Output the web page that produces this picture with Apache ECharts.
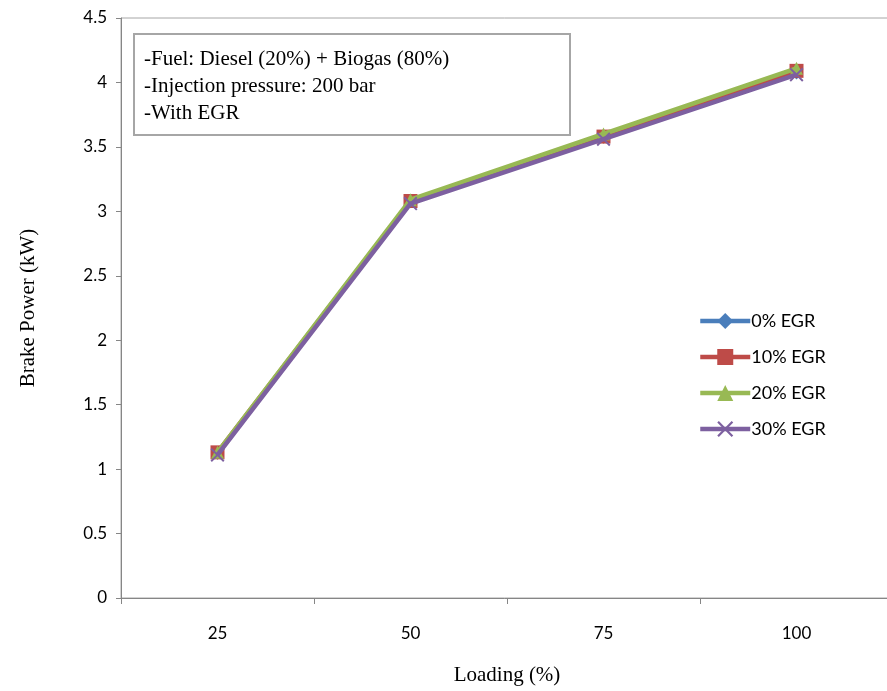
<!DOCTYPE html>
<html>
<head>
<meta charset="utf-8">
<script src="https://cdn.jsdelivr.net/npm/echarts@6/dist/echarts.min.js"></script>
<style>
  html, body { margin: 0; padding: 0; background: #fff; }
  #chart { width: 887px; height: 691px; }
</style>
</head>
<body>
<div id="chart"></div>
<script>
// Engine loading levels and measured brake power for each EGR rate
const loadings = ['25', '50', '75', '100'];
const egr0 = [1.12, 3.07, 3.57, 4.07];
const egr10 = [1.13, 3.08, 3.58, 4.09];
const egr20 = [1.13, 3.09, 3.60, 4.11];
const egr30 = [1.11, 3.06, 3.56, 4.06];
const seriesNames = ['0% EGR', '10% EGR', '20% EGR', '30% EGR'];
const noteLines = ['-Fuel: Diesel (20%) + Biogas (80%)', '-Injection pressure: 200 bar', '-With EGR'];

const crossPath = 'path://M0,1 L1,0 L5,4 L9,0 L10,1 L6,5 L10,9 L9,10 L5,6 L1,10 L0,9 L4,5 Z';
const colors = ['#4A7EBB', '#BE4B48', '#98B954', '#7D60A0'];
const symbols = ['diamond', 'rect', 'triangle', crossPath];
const sizes = [12, 14, 13, 14];
const values = [egr0, egr10, egr20, egr30];

const chart = echarts.init(document.getElementById('chart'), null, { renderer: 'canvas' });

const sansFont = 'Lato, "Open Sans", sans-serif';
const serifFont = '"Liberation Serif", "DejaVu Serif", serif';

chart.setOption({
  animation: false,
  backgroundColor: '#fff',
  grid: {
    left: 121, top: 18, right: -6, bottom: 93,
    outerBoundsMode: 'none',
    containLabel: false,
    show: true, borderColor: '#A6A6A6', borderWidth: 1, backgroundColor: 'transparent'
  },
  legend: {
    orient: 'vertical',
    left: 693, top: 307,
    itemWidth: 50, itemHeight: 20, itemGap: 18,
    lineStyle: { width: 4.5 },
    textStyle: { fontFamily: sansFont, fontSize: 18, color: '#000', padding: [0, 0, 0, -4] },
    data: seriesNames
  },
  xAxis: {
    type: 'category',
    data: loadings,
    boundaryGap: true,
    name: 'Loading (%)',
    nameLocation: 'middle',
    nameGap: 67,
    nameTextStyle: { fontFamily: serifFont, fontSize: 21, color: '#000' },
    axisLine: { lineStyle: { color: '#868686', width: 1 } },
    axisTick: { show: true, length: 6, lineStyle: { color: '#868686' } },
    axisLabel: { fontFamily: sansFont, fontSize: 17, color: '#000', margin: 27 },
    splitLine: { show: false }
  },
  yAxis: {
    type: 'value',
    min: 0, max: 4.5, interval: 0.5,
    name: 'Brake Power (kW)',
    nameLocation: 'middle',
    nameGap: 82,
    nameTextStyle: { fontFamily: serifFont, fontSize: 21, color: '#000' },
    axisLine: { show: true, lineStyle: { color: '#868686', width: 1 } },
    axisTick: { show: true, length: 5, lineStyle: { color: '#868686' } },
    axisLabel: { fontFamily: sansFont, fontSize: 17, color: '#000', margin: 14 },
    splitLine: { show: false }
  },
  graphic: [{
    type: 'group',
    left: 133, top: 33,
    children: [{
      type: 'rect',
      shape: { x: 0, y: 0, width: 436, height: 101 },
      style: { fill: '#fff', stroke: '#A6A6A6', lineWidth: 2 }
    }, {
      type: 'text',
      left: 10, top: 12,
      style: {
        text: noteLines.join('\n'),
        font: '21px ' + serifFont,
        lineHeight: 27,
        fill: '#000'
      }
    }]
  }],
  series: seriesNames.map((name, i) => ({
    name: name,
    type: 'line',
    data: values[i],
    symbol: symbols[i],
    symbolSize: sizes[i],
    showAllSymbol: true,
    lineStyle: { color: colors[i], width: 4.5 },
    itemStyle: { color: colors[i], borderColor: colors[i], borderWidth: 0 },
    z: 2 + i
  }))
});
</script>
</body>
</html>
